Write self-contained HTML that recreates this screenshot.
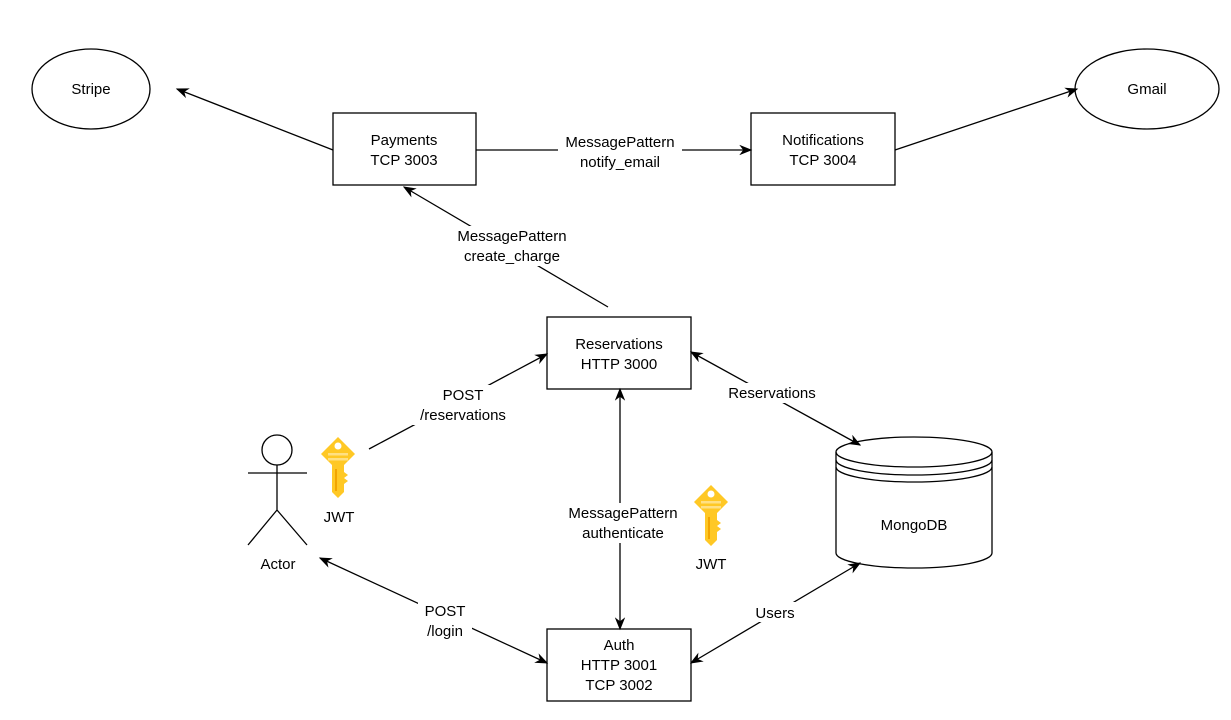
<!DOCTYPE html>
<html><head><meta charset="utf-8"><style>
html,body{margin:0;padding:0;background:#fff;}
svg{display:block;font-family:"Liberation Sans",Arial,sans-serif;font-size:15px;}
</style></head><body>
<svg width="1231" height="720" viewBox="0 0 1231 720">
<defs>
<marker id="a" viewBox="0 0 10 10" refX="9" refY="5" markerWidth="13" markerHeight="13" orient="auto-start-reverse" markerUnits="userSpaceOnUse">
<path d="M0,1 L10,5 L0,9 L3,5 Z" fill="#000"/></marker>
<g id="key">
<path d="M0,-17 L17,0 L6,11 L6,38 L0,44 L-6,38 L-6,11 L-17,0 Z" fill="#FFC825"/>
<circle cx="0" cy="-8" r="3.5" fill="#fff"/>
<rect x="-10" y="-1" width="20" height="2.5" fill="#FFE083"/>
<rect x="-10" y="4" width="20" height="2.5" fill="#FFE083"/>
<rect x="-3" y="15" width="2" height="22" fill="#F2A500"/>
<path d="M6,18 L10,21 L6,24 L10,27 L6,30 Z" fill="#FFC825"/>
</g>
</defs>
<g stroke="#000" stroke-width="1.3" fill="#fff">
<ellipse cx="91" cy="89" rx="59" ry="40"/>
<ellipse cx="1147" cy="89" rx="72" ry="40"/>
<rect x="333" y="113" width="143" height="72"/>
<rect x="751" y="113" width="144" height="72"/>
<rect x="547" y="317" width="144" height="72"/>
<rect x="547" y="629" width="144" height="72"/>
<path d="M836,452 A78,15 0 0 1 992,452 L992,553 A78,15 0 0 1 836,553 Z"/>
<path d="M836,452 A78,15 0 0 0 992,452 M836,460 A78,15 0 0 0 992,460 M836,467 A78,15 0 0 0 992,467" fill="none"/>
<circle cx="277" cy="450" r="15"/>
<path d="M277,465 L277,510 M248,473 L307,473 M277,510 L248,545 M277,510 L307,545" fill="none"/>
</g>
<g stroke="#000" stroke-width="1.3" fill="none">
<line x1="333" y1="150" x2="177" y2="89" marker-end="url(#a)"/>
<line x1="476" y1="150" x2="751" y2="150" marker-end="url(#a)"/>
<line x1="608" y1="307" x2="404" y2="187" marker-end="url(#a)"/>
<line x1="895" y1="150" x2="1077" y2="89" marker-end="url(#a)"/>
<line x1="369" y1="449" x2="547" y2="354" marker-end="url(#a)"/>
<line x1="691" y1="352" x2="860" y2="445" marker-start="url(#a)" marker-end="url(#a)"/>
<line x1="620" y1="389" x2="620" y2="629" marker-start="url(#a)" marker-end="url(#a)"/>
<line x1="547" y1="663" x2="320" y2="558" marker-start="url(#a)" marker-end="url(#a)"/>
<line x1="691" y1="663" x2="860" y2="563" marker-start="url(#a)" marker-end="url(#a)"/>
</g>
<g fill="#fff">
<rect x="558" y="133" width="124" height="40"/>
<rect x="448" y="226" width="128" height="40"/>
<rect x="412" y="385" width="104" height="40"/>
<rect x="722" y="383" width="100" height="20"/>
<rect x="558" y="503" width="128" height="40"/>
<rect x="418" y="600" width="54" height="40"/>
<rect x="750" y="602" width="50" height="20"/>
</g>
<use href="#key" x="338" y="454"/>
<use href="#key" x="711" y="502"/>
<g text-anchor="middle" fill="#000">
<text x="91" y="94">Stripe</text>
<text x="1147" y="94">Gmail</text>
<text x="404" y="145">Payments</text><text x="404" y="165">TCP 3003</text>
<text x="823" y="145">Notifications</text><text x="823" y="165">TCP 3004</text>
<text x="619" y="349">Reservations</text><text x="619" y="369">HTTP 3000</text>
<text x="619" y="650">Auth</text><text x="619" y="670">HTTP 3001</text><text x="619" y="690">TCP 3002</text>
<text x="914" y="530">MongoDB</text>
<text x="278" y="569">Actor</text>
<text x="339" y="522">JWT</text>
<text x="711" y="569">JWT</text>
<text x="620" y="147">MessagePattern</text><text x="620" y="167">notify_email</text>
<text x="512" y="241">MessagePattern</text><text x="512" y="261">create_charge</text>
<text x="463" y="400">POST</text><text x="463" y="420">/reservations</text>
<text x="772" y="398">Reservations</text>
<text x="623" y="518">MessagePattern</text><text x="623" y="538">authenticate</text>
<text x="445" y="616">POST</text><text x="445" y="636">/login</text>
<text x="775" y="618">Users</text>
</g>
</svg>
</body></html>
